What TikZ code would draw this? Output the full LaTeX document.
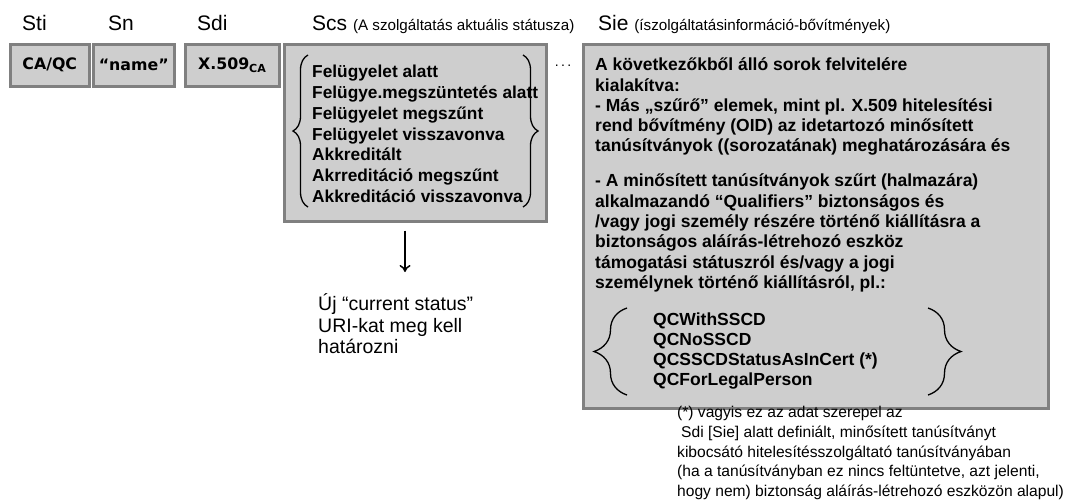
\documentclass[tikz,border=0pt]{standalone}
\usepackage{fontspec}
\usepackage{tikz}
\usetikzlibrary{arrows.meta,decorations.pathreplacing}
\setmainfont{Liberation Sans}
\newfontfamily\tagfont{DejaVu Sans}
\definecolor{panelfill}{RGB}{206,206,206}
\definecolor{panelline}{RGB}{128,128,128}

\begin{document}
\begin{tikzpicture}[x=1pt,y=-1pt]
	\tikzstyle{panel}=[draw=panelline,fill=panelfill,line width=2.5pt,inner sep=0pt,anchor=north west]
	\tikzstyle{hdr}=[anchor=base west,inner sep=0pt,font=\fontsize{21}{25}\selectfont]
	\tikzstyle{tag}=[font=\tagfont\bfseries\fontsize{15.8}{18}\selectfont]
	\tikzstyle{boldtext}=[anchor=west,inner sep=0pt,align=left,font=\bfseries\fontsize{17.3}{20.8}\selectfont]
	\tikzstyle{plaintext}=[anchor=west,inner sep=0pt,align=left,font=\fontsize{15.6}{19.8}\selectfont]
	\tikzstyle{smallbrace}=[decorate,decoration={brace,amplitude=15pt},line width=1.3pt]
	\tikzstyle{bigbrace}=[decorate,decoration={brace,amplitude=33pt},line width=1.3pt]
	\useasboundingbox (0,0) rectangle (1078,499);

	% column headers
	\node[hdr](hsti) at (22,30) {Sti};
	\node[hdr](hsn) at (108,30) {Sn};
	\node[hdr](hsdi) at (197,30) {Sdi};
	\node[hdr](hscs) at (312,30) {Scs \fontsize{15.2}{17}\selectfont(A szolgáltatás aktuális státusza)};
	\node[hdr](hsie) at (598,30) {Sie \fontsize{15.2}{17}\selectfont(íszolgáltatásinformáció-bővítmények)};

	% small boxes
	\node[panel,tag,minimum width=79,minimum height=42](sti) at (9,43) {CA/QC};
	\node[panel,tag,minimum width=81,minimum height=42](sn) at (92,43) {“name”};
	\node[panel,tag,minimum width=94,minimum height=42](sdi) at (184,43) {X.509\textsubscript{CA}};

	% current status
	\node[panel,minimum width=262,minimum height=177](scs) at (283,43) {};
	\node[boldtext](stlist) at (312,134) {Felügyelet alatt\\Felügye.megszüntetés alatt\\Felügyelet megszűnt\\Felügyelet visszavonva\\Akkreditált\\Akrreditáció megszűnt\\Akkreditáció visszavonva};
	\draw[smallbrace] (308,207) -- (308,55);
	\draw[smallbrace] (523,55) -- (523,207);

	\node[anchor=base,inner sep=0pt,font=\fontsize{14}{17}\selectfont](dots) at (563,66) {.\,.\,.};

	% extensions
	\node[panel,minimum width=465,minimum height=364](sie) at (582,43) {};
	\node[boldtext,font=\bfseries\fontsize{17.5}{20.3}\selectfont](sietext) at (595,175) {A következőkből álló sorok felvitelére\\kialakítva:\\- Más „szűrő” elemek, mint pl. X.509 hitelesítési\\rend bővítmény (OID) az idetartozó minősített\\tanúsítványok ((sorozatának) meghatározására és\\[14.7pt]- A minősített tanúsítványok szűrt (halmazára)\\alkalmazandó “Qualifiers” biztonságos és\\/vagy jogi személy részére történő kiállításra a\\biztonságos aláírás-létrehozó eszköz\\támogatási státuszról és/vagy a jogi\\személynek történő kiállításról, pl.:};
	\node[boldtext,font=\bfseries\fontsize{17.5}{20}\selectfont](qclist) at (653,351) {QCWithSSCD\\QCNoSSCD\\QCSSCDStatusAsInCert (*)\\QCForLegalPerson};
	\draw[bigbrace] (627,395) -- (627,308);
	\draw[bigbrace] (928,308) -- (928,395);

	\node[plaintext](note) at (677,453) {(*) vagyis ez az adat szerepel az\\\hspace*{4pt}Sdi [Sie] alatt definiált, minősített tanúsítványt\\kibocsátó hitelesítésszolgáltató tanúsítványában\\(ha a tanúsítványban ez nincs feltüntetve, azt jelenti,\\hogy nem) biztonság aláírás-létrehozó eszközön alapul)};

	% new status URIs
	\node[plaintext,font=\fontsize{19.5}{21.5}\selectfont](newuri) at (318,324) {Új “current status”\\URI-kat meg kell\\határozni};
	\coordinate (arrtip) at (405,272);
	\draw[-{To[length=7pt,width=11pt]},line width=1.5pt,shorten <=8pt] (scs.south -| arrtip) -- (arrtip);
\end{tikzpicture}
\end{document}
